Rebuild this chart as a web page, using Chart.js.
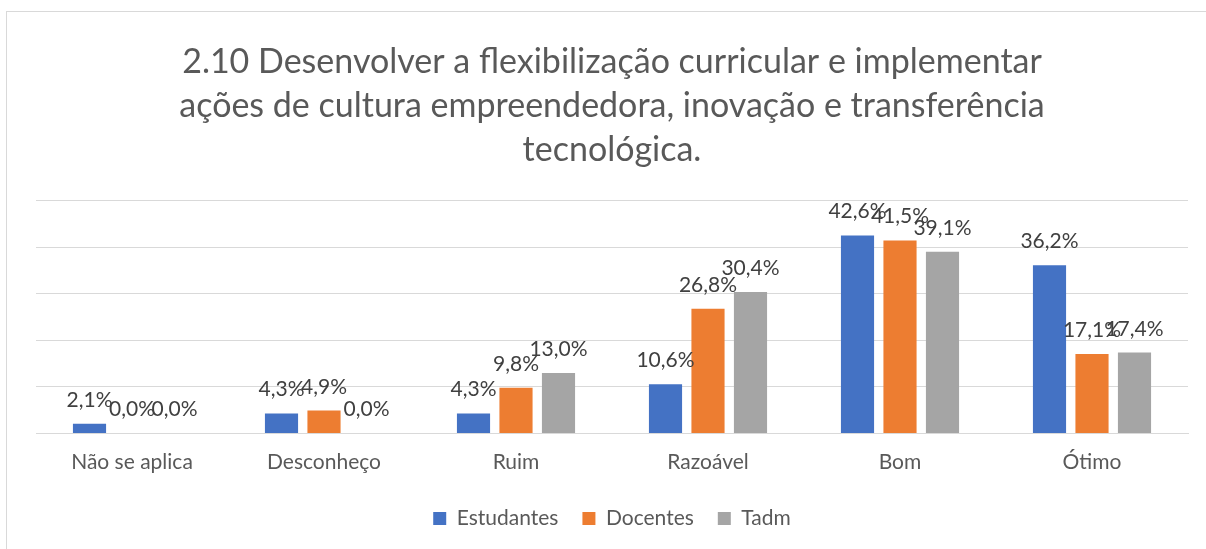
<!DOCTYPE html>
<html>
<head>
<meta charset="utf-8">
<script src="https://cdn.jsdelivr.net/npm/chart.js@4.4.0/dist/chart.umd.min.js"></script>
<style>
  html, body { margin: 0; padding: 0; background: #fff; }
  #wrap { position: relative; width: 1206px; height: 549px; overflow: hidden; }
  #frame { position: absolute; left: 6px; top: 11px; width: 1300px; height: 700px;
           border-left: 1px solid #d9d9d9; border-top: 1px solid #d9d9d9; }
  canvas { position: absolute; left: 0; top: 0; }
</style>
</head>
<body>
<div id="wrap">
  <div id="frame"></div>
  <canvas id="chart" width="1206" height="549"></canvas>
</div>
<script>
var titleLines = ["2.10 Desenvolver a flexibilização curricular e implementar",
                  "ações de cultura empreendedora, inovação e transferência",
                  "tecnológica."];
var categories = ["Não se aplica", "Desconheço", "Ruim", "Razoável", "Bom", "Ótimo"];
var estudantes = [2.1, 4.3, 4.3, 10.6, 42.6, 36.2];
var docentes = [0.0, 4.9, 9.8, 26.8, 41.5, 17.1];
var tadm = [0.0, 0.0, 13.0, 30.4, 39.1, 17.4];

var fontFamily = "Lato, 'Open Sans', sans-serif";

// rotulos de valor acima das barras (estilo Excel)
var valueLabels = {
  id: "valueLabels",
  afterDatasetsDraw: function(chart) {
    var ctx = chart.ctx;
    ctx.save();
    ctx.font = "21px " + fontFamily;
    ctx.fillStyle = "#404040";
    ctx.textAlign = "center";
    ctx.textBaseline = "alphabetic";
    chart.data.datasets.forEach(function(ds, i) {
      var meta = chart.getDatasetMeta(i);
      meta.data.forEach(function(bar, j) {
        var txt = ds.data[j].toFixed(1).replace(".", ",") + "%";
        ctx.fillText(txt, bar.x, bar.y - 17);
      });
    });
    ctx.restore();
  }
};

new Chart(document.getElementById("chart"), {
  type: "bar",
  data: {
    labels: categories,
    datasets: [
      { label: "Estudantes", backgroundColor: "#4472C4", data: estudantes },
      { label: "Docentes", backgroundColor: "#ED7D31", data: docentes },
      { label: "Tadm", backgroundColor: "#A5A5A5", data: tadm }
    ]
  },
  options: {
    responsive: false,
    animation: false,
    layout: { padding: { left: 36, right: 18, top: 0, bottom: 10 } },
    datasets: { bar: { categoryPercentage: 0.664, barPercentage: 0.78 } },
    scales: {
      x: {
        grid: { display: false },
        border: { display: true, color: "#d9d9d9", width: 1 },
        ticks: { color: "#595959", font: { family: fontFamily, size: 21, lineHeight: 0.6 }, padding: 15 }
      },
      y: {
        min: 0, max: 50,
        ticks: { display: false, stepSize: 10 },
        border: { display: false },
        grid: { color: "#d9d9d9", lineWidth: 1, drawTicks: false }
      }
    },
    plugins: {
      title: {
        display: true,
        text: titleLines,
        color: "#595959",
        font: { family: fontFamily, size: 34, weight: "normal", lineHeight: 1.294 },
        padding: { top: 40, bottom: 29 }
      },
      legend: {
        position: "bottom",
        labels: {
          color: "#595959",
          font: { family: fontFamily, size: 21 },
          boxWidth: 13, boxHeight: 13, padding: 24
        }
      },
      tooltip: { enabled: false }
    }
  },
  plugins: [valueLabels]
});
</script>
</body>
</html>
